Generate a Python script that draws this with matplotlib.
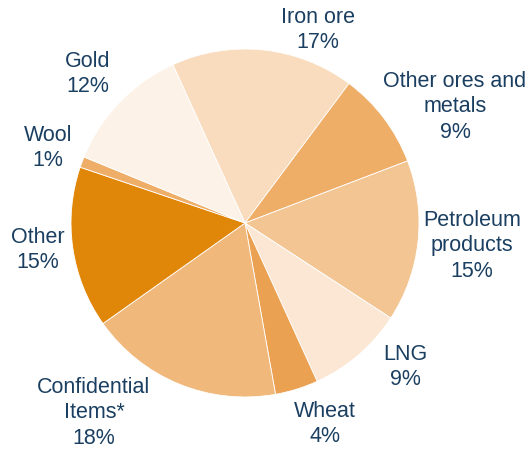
import matplotlib.pyplot as plt

# Export shares, clockwise from the top
categories = ["Iron ore", "Other ores and\nmetals", "Petroleum\nproducts", "LNG",
              "Wheat", "Confidential\nItems*", "Other", "Wool", "Gold"]
shares = [17, 9, 15, 9, 4, 18, 15, 1, 12]

colors = ["#f9dcbd", "#eeae68", "#f3c592", "#fbe7d4", "#eba152",
          "#f0b87a", "#e0870a", "#eeae68", "#fdf2e8"]

# label centres in pixels (x from left, y from top)
label_pos = [(318, 30), (455, 107), (472, 246), (405, 367), (325, 424),
             (94, 413), (38, 250), (48, 148), (88, 74)]

W, H = 528, 450
cx, cy, r = 245, 223, 174
text_color = "#1b3f61"

fig = plt.figure(figsize=(W / 100, H / 100), dpi=100)
ax = fig.add_axes([0, 0, 1, 1])

ax.pie(shares, colors=colors, startangle=114.5, counterclock=False,
       radius=1.0, wedgeprops=dict(linewidth=0.6, edgecolor="white"))

# pie() resets the limits, so set them afterwards
ax.set_xlim(-cx / r, (W - cx) / r)
ax.set_ylim(-(H - cy) / r, cy / r)
ax.set_aspect("auto")
ax.axis("off")

for name, val, (px, py) in zip(categories, shares, label_pos):
    ax.text(px / W, 1 - py / H, f"{name}\n{val}%", transform=ax.transAxes,
            ha="center", va="center", fontsize=15.5, color=text_color,
            family="Liberation Sans", linespacing=1.28)

fig.savefig("out.png", dpi=100)
